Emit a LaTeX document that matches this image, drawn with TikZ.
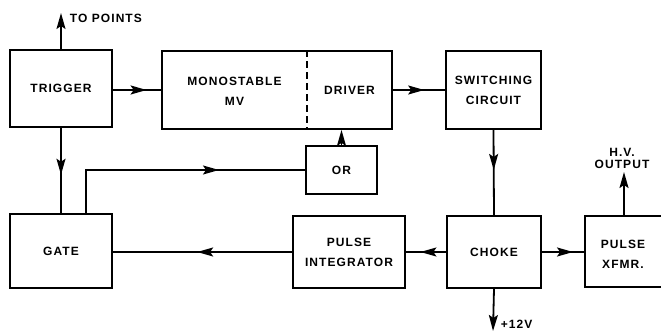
\documentclass[tikz,border=0pt]{standalone}
\usepackage{fontspec}
\setmainfont{Liberation Sans}[LetterSpace=9]
\usetikzlibrary{arrows.meta,decorations.markings}
\tikzset{myhead/.tip={Stealth[length=16pt,width=9pt,inset=3pt]}}
\begin{document}
\begin{tikzpicture}[x=1pt,y=-1pt,
  line width=1.8pt,
  box/.style={draw,inner sep=0pt,align=center,font=\fontsize{12}{20}\selectfont\bfseries},
  lbl/.style={inner sep=0pt,align=center,font=\fontsize{12}{12}\selectfont\bfseries},
  arrowat/.style={postaction={decorate},decoration={markings,mark=at position #1 with {\arrow{Stealth[length=16pt,width=9pt,inset=3pt]}}}},
  endarrow/.style={-{Stealth[length=16pt,width=9pt,inset=3pt]}}]
\useasboundingbox (0,0) rectangle (661,331);
% boxes
\node[box,minimum width=102,minimum height=77] (trigger) at (61,88.5) {TRIGGER};
\node[box,minimum width=230,minimum height=78] (mono) at (277,90) {};
\node[lbl,font=\fontsize{12}{20}\selectfont\bfseries] (monolbl) at (234.5,91) {MONOSTABLE\\MV};
\node[lbl] (driver) at (349.5,90) {DRIVER};
\draw[dash pattern=on 7pt off 4pt,line width=1.3pt] (mono.north west -| 307,0) -- (mono.south west -| 307,0);
\node[box,minimum width=95,minimum height=78] (switch) at (493.5,90) {SWITCHING\\CIRCUIT};
\node[box,minimum width=71,minimum height=48] (or) at (341.5,170) {OR};
\node[box,minimum width=102,minimum height=74] (gate) at (61,251) {GATE};
\node[box,minimum width=112,minimum height=72] (pint) at (349,252) {PULSE\\INTEGRATOR};
\node[box,minimum width=94,minimum height=72] (choke) at (494,252) {CHOKE};
\node[box,minimum width=86,minimum height=71,anchor=west] (xfmr) at (584,251.5) {};
\node[lbl,font=\fontsize{12}{20}\selectfont\bfseries] (xfmrlbl) at (623,254) {PULSE\\XFMR.};
% free ends
\coordinate (topoints) at (61,13);
\coordinate (hv) at (624,172);
\coordinate (v12) at (493,331);
\node[lbl,anchor=west] (tp) at (69,18) {TO POINTS};
\node[lbl,font=\fontsize{12}{12}\selectfont\bfseries] (hvl) at (622,158) {H.V.\\OUTPUT};
\node[lbl,anchor=west] (v12l) at (500,324) {+12V};
% connectors
\draw[endarrow] (trigger.north) -- (topoints);
\draw[arrowat=0.7] (trigger.east |- 0,90) -- (mono.west |- 0,90);
\draw[arrowat=0.6] (mono.east) -- (switch.west);
\draw[arrowat=0.47] (switch.south) -- (choke.north);
\draw[arrowat=0.55] (trigger.south) -- (gate.north);
\draw[arrowat=176pt] ([xshift=77pt]gate.north west) |- (or.west);
\draw[endarrow] (or.north) -- (mono.south -| or.north);
\draw[arrowat=0.64] (choke.west) -- (pint.east);
\draw[arrowat=0.53] (pint.west) -- (gate.east |- pint.west);
\draw[arrowat=0.74] (choke.east) -- (xfmr.west |- choke.east);
\draw[endarrow] (xfmr.north -| hv) -- (hv);
\draw[endarrow] (choke.south) -- (v12);
\end{tikzpicture}
\end{document}
